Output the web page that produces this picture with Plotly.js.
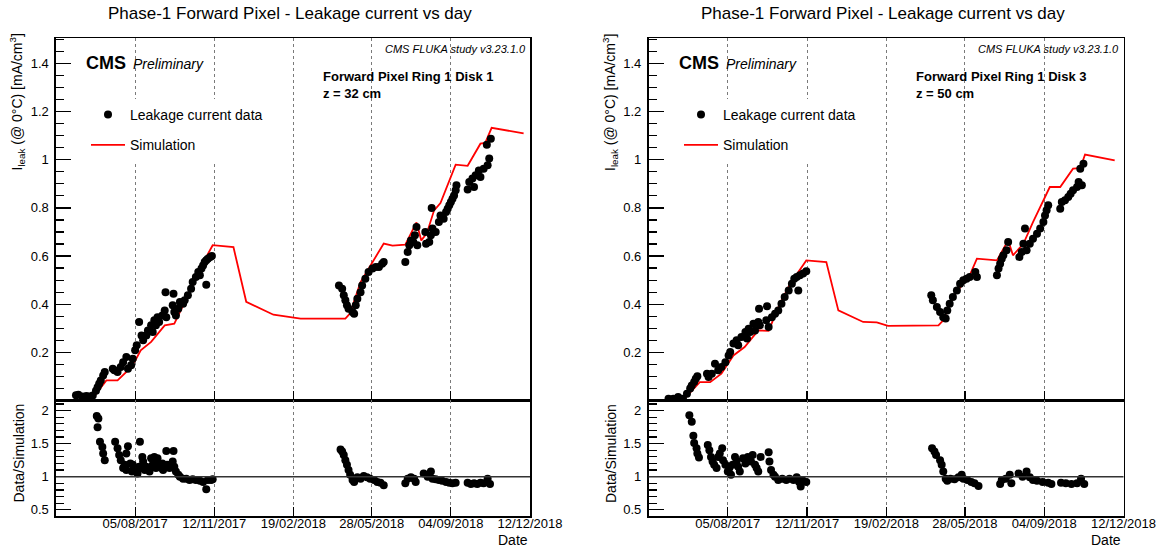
<!DOCTYPE html>
<html>
<head>
<meta charset="utf-8">
<script src="https://cdn.plot.ly/plotly-3.0.1.min.js"></script>
<style>html,body{margin:0;padding:0;background:#fff;}#chart{width:1161px;height:551px;}</style>
</head>
<body>
<div id="chart"></div>
<script>
// ---- Data (x values are days counted from 2017-01-01) ----
const tickDates = ['2017-08-05', '2017-11-12', '2018-02-19', '2018-05-28', '2018-09-04', '2018-12-12'];
const rangeDates = ['2017-04-28', '2018-12-12'];

// Left panel: Ring 1 Disk 1, z = 32 cm
const leftSimDay = [138,160,163,180,194,207,216,223,236,253,265,284,297,313,339,355,389,423,479,485,498,513,527,538,554,568,574,581,590,598,617,632,636,648,654,662,702];
const leftSimVal = [0,0.005,0.01,0.083,0.083,0.125,0.165,0.208,0.243,0.312,0.319,0.45,0.547,0.645,0.637,0.41,0.356,0.34,0.34,0.362,0.492,0.575,0.652,0.643,0.647,0.74,0.665,0.695,0.79,0.82,0.98,0.975,0.998,1.067,1.07,1.133,1.11];

const leftDataDay = [142,145,150,155,159,163,167,169,171,173,176,178,188,190,194,198,201,205,207,211,213,216,218,221,224,226,230,232,236,238,240,242,244,246,250,253,255,254,264,263,265,267,270,272,276,278,282,286,288,292,295,297,299,301,303,305,307,310,312,305,
  471,475,477,479,481,483,488,490,492,494,498,500,504,508,513,517,521,525,527,554,557,559,561,564,566,568,569,579,580,584,586,588,587,592,596,598,602,605,607,609,611,613,615,617,618,632,634,638,640,642,646,648,652,657,659,656,661];
const leftDataVal = [0.021,0.024,0.016,0.018,0.016,0.02,0.04,0.055,0.069,0.083,0.104,0.118,0.132,0.125,0.118,0.139,0.159,0.18,0.132,0.146,0.173,0.208,0.229,0.326,0.27,0.25,0.27,0.291,0.312,0.284,0.333,0.312,0.346,0.326,0.353,0.374,0.346,0.45,0.443,0.395,0.367,0.353,0.381,0.409,0.402,0.416,0.437,0.464,0.492,0.513,0.534,0.52,0.548,0.561,0.575,0.582,0.589,0.596,0.6,0.481,
  0.478,0.464,0.437,0.416,0.395,0.381,0.367,0.36,0.395,0.423,0.45,0.478,0.506,0.534,0.548,0.554,0.554,0.568,0.575,0.575,0.617,0.645,0.665,0.658,0.686,0.721,0.645,0.7,0.651,0.658,0.686,0.714,0.8,0.7,0.741,0.769,0.755,0.783,0.797,0.811,0.825,0.838,0.852,0.873,0.894,0.877,0.908,0.922,0.887,0.936,0.956,0.929,0.963,0.977,1.005,1.063,1.088];

const leftRatioDay = [168,170,169,172,175,176,178,191,194,196,198,203,205,207,210,213,217,221,222,225,226,230,234,236,240,242,244,246,250,251,255,256,264,263,265,267,270,272,276,280,284,288,292,297,301,305,307,311,313,
  223,228,238,242,249,253,259,261,201,205,212,219,
  473,475,477,479,481,483,485,488,490,494,498,502,506,510,515,519,523,527,554,557,561,565,567,577,582,586,588,592,596,600,605,609,613,617,632,636,640,644,648,652,657,660];
const leftRatioVal = [1.92,1.88,1.75,1.53,1.45,1.35,1.25,1.53,1.43,1.33,1.25,1.18,1.35,1.46,1.2,1.18,1.08,1.15,1.53,1.3,1.23,1.15,1.08,1.28,1.3,1.2,1.28,1.15,1.2,1.1,1.39,1.18,1.39,1.23,1.15,1.08,1.03,1.0,0.97,0.97,0.95,0.96,0.95,0.94,0.92,0.81,0.95,0.95,0.96,
  1.13,1.1,1.18,1.13,1.13,1.15,1.13,1.18,1.13,1.1,1.08,1.05,
  1.41,1.38,1.33,1.25,1.18,1.1,1.03,0.95,0.92,0.99,0.97,1.01,0.99,0.97,0.95,0.92,0.91,0.87,0.9,0.97,0.99,0.97,0.92,1.05,1.0,1.08,0.97,0.96,0.95,0.94,0.92,0.91,0.9,0.91,0.91,0.89,0.9,0.89,0.91,0.9,0.97,0.89];

// Right panel: Ring 1 Disk 3, z = 50 cm
const rightSimDay = [138,160,181,194,208,223,237,254,267,281,294,314,339,354,385,402,416,479,485,497,518,527,552,566,572,585,597,618,631,647,656,662,699];
const rightSimVal = [0,0,0.076,0.076,0.111,0.187,0.222,0.291,0.289,0.402,0.485,0.582,0.575,0.374,0.326,0.324,0.31,0.312,0.333,0.43,0.52,0.589,0.582,0.665,0.603,0.651,0.741,0.887,0.887,0.963,0.965,1.022,0.998];

const rightDataDay = [142,148,154,160,165,169,171,174,176,178,190,192,196,200,204,208,213,217,219,223,227,229,233,238,240,242,244,248,250,254,256,255,265,264,267,271,275,279,283,287,292,296,299,302,306,310,314,304,
  470,472,477,481,485,488,490,493,497,502,506,510,514,518,525,527,552,554,556,558,560,564,566,580,583,585,587,589,593,597,602,606,610,612,614,616,631,633,637,641,644,647,652,654,658,656,660];
const rightDataVal = [0.007,0.007,0.014,0.007,0.028,0.049,0.062,0.076,0.09,0.1,0.111,0.097,0.111,0.152,0.125,0.139,0.159,0.187,0.201,0.236,0.25,0.229,0.263,0.284,0.257,0.298,0.284,0.319,0.291,0.326,0.312,0.381,0.391,0.333,0.305,0.346,0.36,0.374,0.402,0.43,0.457,0.485,0.506,0.513,0.52,0.527,0.537,0.457,
  0.437,0.416,0.388,0.367,0.346,0.34,0.374,0.402,0.43,0.457,0.485,0.499,0.506,0.513,0.534,0.513,0.52,0.548,0.568,0.589,0.603,0.624,0.658,0.596,0.617,0.651,0.714,0.624,0.651,0.672,0.693,0.714,0.741,0.769,0.79,0.811,0.797,0.825,0.832,0.845,0.859,0.873,0.887,0.908,0.894,0.963,0.984];

const rightRatioDay = [168,171,173,174,177,178,180,191,193,195,197,199,202,204,206,209,210,213,216,218,220,222,225,227,229,231,235,238,241,245,247,250,252,254,257,267,268,270,273,275,279,284,289,293,298,302,305,307,309,314,
  471,474,476,481,483,485,488,490,494,499,504,508,510,515,520,524,529,556,558,563,568,570,579,584,589,593,597,602,609,616,620,632,638,645,652,657,661];
const rightRatioVal = [1.93,1.83,1.62,1.51,1.43,1.35,1.29,1.48,1.40,1.30,1.23,1.18,1.13,1.30,1.35,1.43,1.25,1.18,1.08,1.13,1.03,1.18,1.30,1.23,1.15,1.08,1.28,1.2,1.3,1.23,1.33,1.18,1.13,1.08,1.3,1.37,1.23,1.1,1.03,1.0,0.95,0.97,0.95,0.97,0.95,0.99,0.92,0.85,0.95,0.92,
  1.43,1.38,1.33,1.25,1.18,1.08,0.97,0.94,0.97,0.96,0.99,1.03,0.97,0.95,0.92,0.9,0.86,0.89,0.95,0.97,1.03,0.9,1.05,1.0,1.08,0.99,0.95,0.94,0.92,0.91,0.89,0.91,0.9,0.89,0.9,0.97,0.89];

const topTickVals = [0.2, 0.4, 0.6, 0.8, 1.0, 1.2, 1.4];
const topTickText = ['0.2', '0.4', '0.6', '0.8', '1', '1.2', '1.4'];
const ratioTickVals = [0.5, 1.0, 1.5, 2.0];
const ratioTickText = ['0.5', '1', '1.5', '2'];

const panels = [
  {title: 'Phase-1 Forward Pixel - Leakage current vs day', label: 'Forward Pixel Ring 1 Disk 1', z: 'z = 32 cm'},
  {title: 'Phase-1 Forward Pixel - Leakage current vs day', label: 'Forward Pixel Ring 1 Disk 3', z: 'z = 50 cm'}
];

// ---- Helpers ----
const toDate = d => new Date(Date.UTC(2017, 0, 1) + d * 86400000).toISOString().slice(0, 10);
const W = 1161, H = 551;
const px = x => x / W;
const py = y => 1 - y / H;
const FONT = 'Liberation Sans, Arial, Helvetica, sans-serif';

const xDom = [[px(56), px(530)], [px(648.5), px(1123.5)]];
const topDom = [py(400.4), py(38.3)];
const ratDom = [py(516), py(400.4)];

const traces = [];
function addPanel(i, simDay, simVal, dataDay, dataVal, ratDay, ratVal) {
  const xa = i === 0 ? 'x' : 'x3', ya = i === 0 ? 'y' : 'y3';
  const xb = i === 0 ? 'x2' : 'x4', yb = i === 0 ? 'y2' : 'y4';
  const lg = i === 0 ? 'legend' : 'legend2';
  traces.push({
    type: 'scatter', mode: 'lines', name: 'Simulation', x: simDay.map(toDate), y: simVal,
    xaxis: xa, yaxis: ya, line: {color: '#ff0000', width: 1.8}, legend: lg, legendrank: 2,
    legendgroup: 'sim' + i, hoverinfo: 'skip'
  });
  traces.push({
    type: 'scatter', mode: 'markers', name: 'Leakage current data', x: dataDay.map(toDate), y: dataVal,
    xaxis: xa, yaxis: ya, marker: {color: '#000', size: 8}, legend: lg, legendrank: 1,
    legendgroup: 'data' + i
  });
  traces.push({
    type: 'scatter', mode: 'markers', name: 'ratio', x: ratDay.map(toDate), y: ratVal,
    xaxis: xb, yaxis: yb, marker: {color: '#000', size: 8}, showlegend: false
  });
}
addPanel(0, leftSimDay, leftSimVal, leftDataDay, leftDataVal, leftRatioDay, leftRatioVal);
addPanel(1, rightSimDay, rightSimVal, rightDataDay, rightDataVal, rightRatioDay, rightRatioVal);

function xAxis(dom, anchor, labels) {
  return {
    domain: dom, anchor: anchor, type: 'date', range: rangeDates,
    tickmode: 'array', tickvals: tickDates, tickformat: '%d/%m/%Y',
    showticklabels: labels, ticks: 'inside', ticklen: 9, tickwidth: 1.2, tickcolor: '#000',
    tickfont: {family: FONT, size: 13, color: '#000'}, ticklabelstandoff: -5,
    showgrid: true, gridcolor: '#7a7a7a', griddash: 'dot', gridwidth: 1,
    showline: true, linecolor: '#000', linewidth: 1.6, mirror: true, zeroline: false, fixedrange: true
  };
}
function yAxis(dom, anchor, range, vals, text, minorStep) {
  return {
    domain: dom, anchor: anchor, range: range, tickmode: 'array', tickvals: vals, ticktext: text,
    ticks: 'inside', ticklen: 15, tickwidth: 1.2, tickcolor: '#000',
    minor: {ticks: 'inside', ticklen: 8, tickwidth: 1.2, tickcolor: '#000', tickmode: 'linear', tick0: 0, dtick: minorStep, showgrid: false},
    tickfont: {family: FONT, size: 13, color: '#000'}, ticklabelstandoff: 3,
    showgrid: false, showline: true, linecolor: '#000', linewidth: 1.6, mirror: true, zeroline: false, fixedrange: true
  };
}

const annotations = [];
const shapes = [];
[0, 1].forEach(i => {
  const off = i === 0 ? 0 : 592.5;
  const p = panels[i];
  annotations.push(
    {text: p.title, xref: 'paper', yref: 'paper', x: px(290 + off), y: py(13), xanchor: 'center', yanchor: 'middle', showarrow: false, font: {family: FONT, size: 17, color: '#000'}},
    {text: '<b>CMS</b>', xref: 'paper', yref: 'paper', x: px(84 + off), y: py(63), xanchor: 'left', yanchor: 'middle', showarrow: false, font: {family: FONT, size: 18, color: '#000'}},
    {text: '<i>Preliminary</i>', xref: 'paper', yref: 'paper', x: px(131 + off), y: py(64), xanchor: 'left', yanchor: 'middle', showarrow: false, font: {family: FONT, size: 14, color: '#000'}},
    {text: '<i>CMS FLUKA study v3.23.1.0</i>', xref: 'paper', yref: 'paper', x: px(528 + off), y: py(49), xanchor: 'right', yanchor: 'middle', showarrow: false, font: {family: FONT, size: 11, color: '#000'}},
    {text: '<b>' + p.label + '</b>', xref: 'paper', yref: 'paper', x: px(321 + off), y: py(77), xanchor: 'left', yanchor: 'middle', showarrow: false, font: {family: FONT, size: 13, color: '#000'}},
    {text: '<b>' + p.z + '</b>', xref: 'paper', yref: 'paper', x: px(321 + off), y: py(93), xanchor: 'left', yanchor: 'middle', showarrow: false, font: {family: FONT, size: 13, color: '#000'}},
    {text: 'I<sub>leak</sub> (@ 0°C) [mA/cm<sup>3</sup>]', xref: 'paper', yref: 'paper', x: px(18 + off), y: py(32), xanchor: 'center', yanchor: 'top', textangle: -90, showarrow: false, font: {family: FONT, size: 14, color: '#000'}},
    {text: 'Data/Simulation', xref: 'paper', yref: 'paper', x: px(18 + off), y: py(402), xanchor: 'center', yanchor: 'top', textangle: -90, showarrow: false, font: {family: FONT, size: 14, color: '#000'}},
    {text: 'Date', xref: 'paper', yref: 'paper', x: px(530 + off), y: py(540), xanchor: 'right', yanchor: 'middle', showarrow: false, font: {family: FONT, size: 14, color: '#000'}}
  );
  shapes.push({type: 'line', xref: (i === 0 ? 'x2' : 'x4') + ' domain', yref: i === 0 ? 'y2' : 'y4', x0: 0, x1: 1, y0: 1, y1: 1, line: {color: '#333', width: 1.4}});
});

const legendBase = {
  xref: 'paper', yref: 'paper', xanchor: 'left', yanchor: 'top', bgcolor: '#fff', borderwidth: 0,
  font: {family: FONT, size: 14, color: '#000'}, traceorder: 'grouped', tracegroupgap: 9, itemwidth: 34
};

const layout = {
  width: W, height: H, margin: {l: 0, r: 0, t: 0, b: 0},
  paper_bgcolor: '#fff', plot_bgcolor: '#fff',
  showlegend: true,
  xaxis: xAxis(xDom[0], 'y', false),
  yaxis: yAxis(topDom, 'x', [0, 1.505], topTickVals, topTickText, 0.05),
  xaxis2: xAxis(xDom[0], 'y2', true),
  yaxis2: yAxis(ratDom, 'x2', [0.405, 2.155], ratioTickVals, ratioTickText, 0.1),
  xaxis3: xAxis(xDom[1], 'y3', false),
  yaxis3: yAxis(topDom, 'x3', [0, 1.505], topTickVals, topTickText, 0.05),
  xaxis4: xAxis(xDom[1], 'y4', true),
  yaxis4: yAxis(ratDom, 'x4', [0.405, 2.155], ratioTickVals, ratioTickText, 0.1),
  legend: Object.assign({}, legendBase, {x: px(86), y: py(99)}),
  legend2: Object.assign({}, legendBase, {x: px(679), y: py(99)}),
  annotations: annotations,
  shapes: shapes
};

Plotly.newPlot('chart', traces, layout, {displayModeBar: false, staticPlot: true});
</script>
</body>
</html>
